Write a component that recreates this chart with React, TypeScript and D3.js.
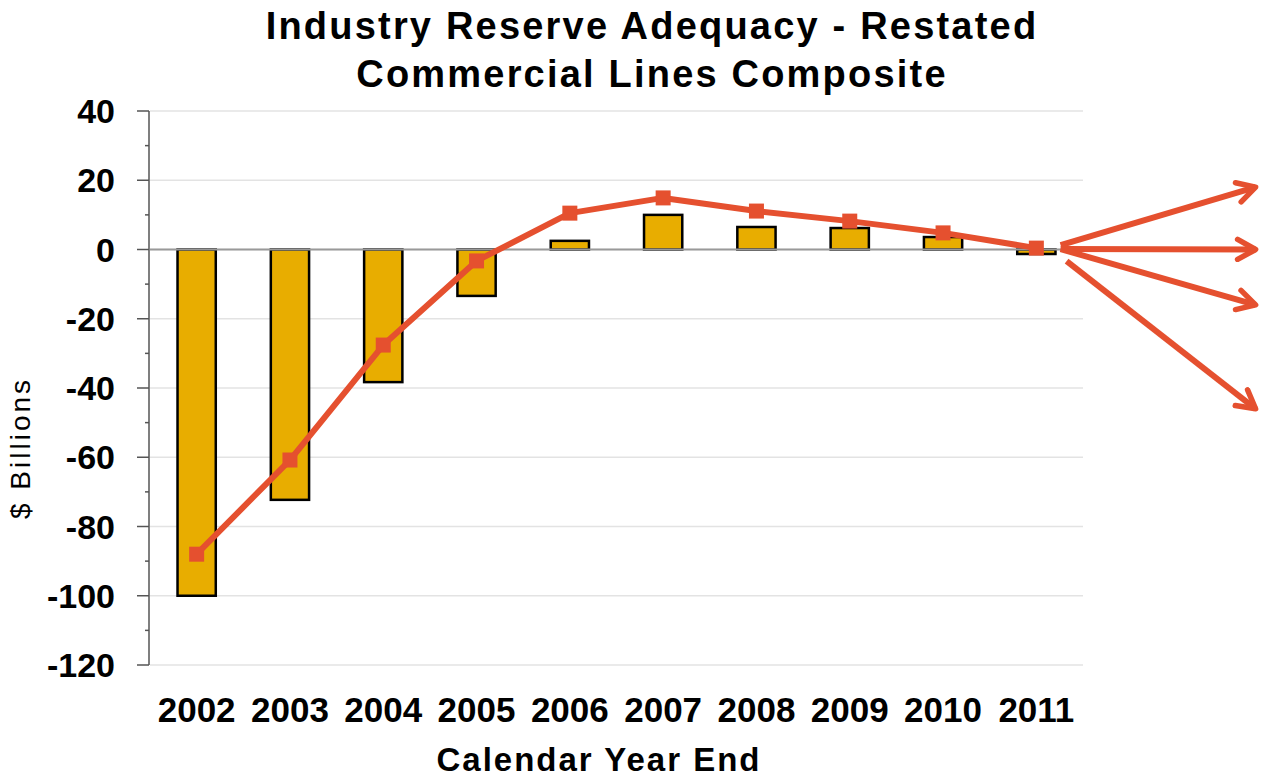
import React from "react";
import * as d3 from "d3";

// Calendar years on the x axis
const years = ["2002", "2003", "2004", "2005", "2006", "2007", "2008", "2009", "2010", "2011"];
// Reserve adequacy as originally booked ($ billions) – bars
const originalValues = [-100, -72.3, -38.3, -13.4, 2.5, 10, 6.5, 6.2, 3.6, -1.3];
// Restated reserve adequacy ($ billions) – line
const restatedValues = [-88, -60.8, -27.6, -3.3, 10.5, 14.9, 11.1, 8.2, 4.8, 0.4];
// Possible future paths after 2011 ($ billions at arrow tips)
const scenarioTargets = [18, 0, -16, -46];
const yTicks = [40, 20, 0, -20, -40, -60, -80, -100, -120];

const W = 1262;
const H = 780;
const plot = { left: 150, right: 1083, top: 111, bottom: 665 };
const BAR = "#E8AD00";
const LINE = "#E5502F";
const FONT = "Liberation Sans, Arial, Helvetica, sans-serif";

export default function App() {
  const x = d3.scaleBand().domain(years).range([plot.left, plot.right]).paddingInner(0.59).paddingOuter(0.295);
  const y = d3.scaleLinear().domain([-120, 40]).range([plot.bottom, plot.top]);
  const cx = (yr: string) => (x(yr) as number) + x.bandwidth() / 2;
  const step = x.step();

  const linePath = d3
    .line<number>()
    .x((_, i) => cx(years[i]))
    .y((v) => y(v))(restatedValues) as string;

  const minorTicks = d3.range(-110, 40, 20);
  const last = years[years.length - 1];
  const arrowStartX = cx(last) + 0.26 * step;
  const arrowEndX = cx(last) + 2.35 * step;
  const arrowStartY = y(restatedValues[restatedValues.length - 1]) + 1;

  return (
    <svg width={W} height={H} style={{ position: "absolute", left: 0, top: 0, background: "#fff" }}>
      <defs>
        <marker id="openHead" viewBox="0 0 26 26" refX="22" refY="13" markerWidth="26" markerHeight="26" markerUnits="userSpaceOnUse" orient="auto">
          <path d="M4,3 L22,13 L4,23" fill="none" stroke={LINE} strokeWidth={5.5} strokeLinecap="round" strokeLinejoin="round" />
        </marker>
      </defs>

      {/* Title */}
      <g fontFamily={FONT} fontWeight="bold" fontSize={38} textAnchor="middle" fill="#000" letterSpacing={2.2}>
        <text x={652} y={39}>Industry Reserve Adequacy - Restated</text>
        <text x={652} y={87}>Commercial Lines Composite</text>
      </g>

      {/* Gridlines */}
      {yTicks.map((t) => (
        <line key={"g" + t} x1={plot.left} x2={plot.right} y1={y(t)} y2={y(t)} stroke="#e3e3e3" strokeWidth={1.5} />
      ))}

      {/* Y axis */}
      <line x1={plot.left - 1} x2={plot.left - 1} y1={plot.top} y2={plot.bottom} stroke="#555" strokeWidth={1.5} />
      {yTicks.map((t) => (
        <line key={"t" + t} x1={plot.left - 13} x2={plot.left - 1} y1={y(t)} y2={y(t)} stroke="#555" strokeWidth={1.5} />
      ))}
      {minorTicks.map((t) => (
        <line key={"m" + t} x1={plot.left - 5} x2={plot.left - 1} y1={y(t)} y2={y(t)} stroke="#555" strokeWidth={1.5} />
      ))}
      <g fontFamily={FONT} fontWeight="bold" fontSize={34} textAnchor="end" fill="#000">
        {yTicks.map((t) => (
          <text key={"l" + t} x={115} y={y(t) + 12}>
            {t}
          </text>
        ))}
      </g>
      <text
        transform={`translate(30,448) rotate(-90)`}
        fontFamily={FONT}
        fontSize={28}
        textAnchor="middle"
        letterSpacing={3}
        fill="#000"
      >
        $ Billions
      </text>

      {/* Bars */}
      {years.map((yr, i) => {
        const v = originalValues[i];
        return (
          <rect
            key={"b" + yr}
            x={x(yr)}
            width={x.bandwidth()}
            y={y(Math.max(0, v))}
            height={Math.abs(y(v) - y(0))}
            fill={BAR}
            stroke="#000"
            strokeWidth={2.5}
          />
        );
      })}

      {/* Zero line */}
      <line x1={plot.left} x2={plot.right} y1={y(0)} y2={y(0)} stroke="#999" strokeWidth={2} />

      {/* Restated line */}
      <path d={linePath} fill="none" stroke={LINE} strokeWidth={6} strokeLinejoin="round" />
      {restatedValues.map((v, i) => (
        <rect key={"p" + i} x={cx(years[i]) - 7.5} y={y(v) - 7.5} width={15} height={15} fill={LINE} />
      ))}

      {/* Scenario arrows */}
      {scenarioTargets.map((t, i) => (
        <line
          key={"a" + i}
          x1={arrowStartX + (i === 3 ? 6 : 0)}
          y1={arrowStartY + (i === 3 ? 12 : i === 0 ? -4 : 0)}
          x2={arrowEndX}
          y2={y(t)}
          stroke={LINE}
          strokeWidth={6}
          markerEnd="url(#openHead)"
        />
      ))}

      {/* X labels */}
      <g fontFamily={FONT} fontWeight="bold" fontSize={35} textAnchor="middle" fill="#000">
        {years.map((yr) => (
          <text key={"x" + yr} x={cx(yr)} y={722}>
            {yr}
          </text>
        ))}
      </g>
      <text x={599} y={771} fontFamily={FONT} fontWeight="bold" fontSize={33} textAnchor="middle" letterSpacing={2}>
        Calendar Year End
      </text>
    </svg>
  );
}
